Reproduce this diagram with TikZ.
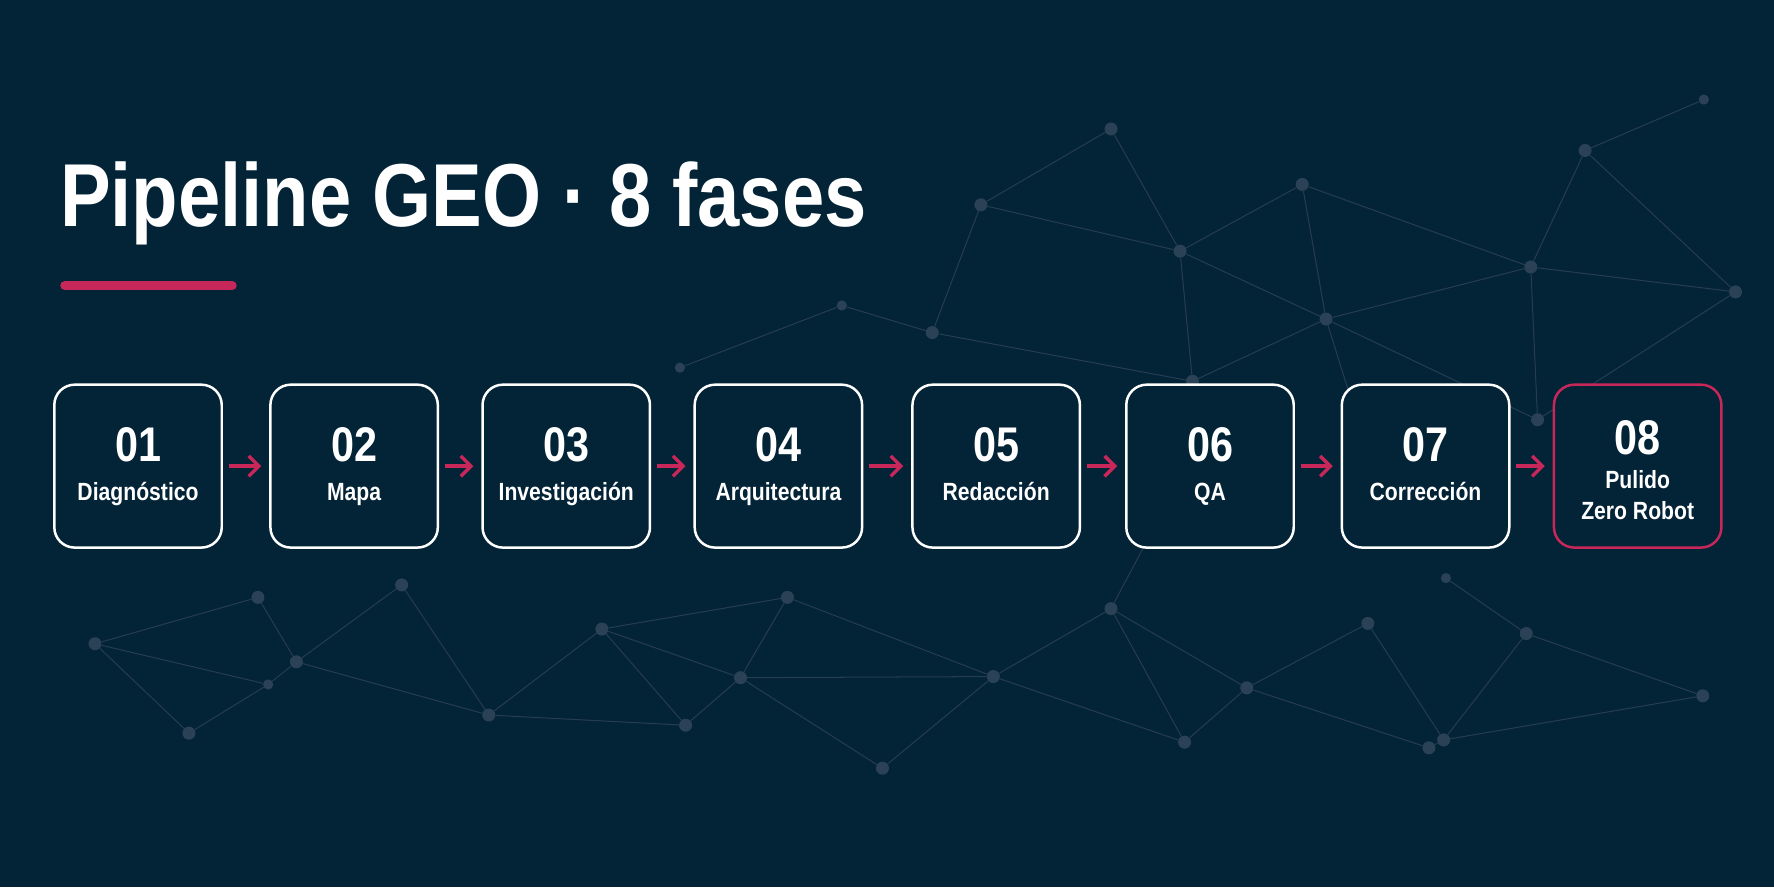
\documentclass[tikz,border=0pt]{standalone}
\usepackage{fontspec}
\setmainfont{Liberation Sans}[FakeStretch=0.85]
\usetikzlibrary{arrows.meta}
\definecolor{bg}{HTML}{032337}
\definecolor{accent}{HTML}{C8275A}
\definecolor{netline}{HTML}{263C50}
\definecolor{netnode}{HTML}{2B4256}
\begin{document}
\begin{tikzpicture}[x=1pt,y=-1pt,
  dot/.style={circle,fill=netnode,inner sep=0pt,minimum size=11.5pt},
  sdot/.style={dot,minimum size=9pt},
  net/.style={draw=netline,line width=0.9pt},
  box/.style={draw=white,line width=2.2pt,rounded corners=18pt,fill=bg,minimum width=148pt,minimum height=144pt,inner sep=0pt},
  redbox/.style={box,draw=accent},
  num/.style={text=white,font=\fontsize{43}{43}\selectfont\bfseries,anchor=base,inner sep=0pt},
  lab/.style={text=white,font=\fontsize{22}{28}\selectfont\bfseries,anchor=base,inner sep=0pt},
  flow/.style={draw=accent,line width=3pt,-{Straight Barb[length=9pt,width=18pt]},shorten <=5pt,shorten >=7pt}
]
\fill[bg] (0,0) rectangle (1568,784);
\useasboundingbox (0,0) rectangle (1568,784);

% ---------- top network ----------
\node[dot] (A) at (982,114) {};
\node[dot] (B) at (867,181) {};
\node[dot] (C) at (1043,222) {};
\node[dot] (D) at (1151,163) {};
\node[dot] (E) at (1172,282) {};
\node[dot] (F) at (1353,236) {};
\node[dot] (G) at (1401,133) {};
\node[sdot] (H) at (1506,88) {};
\node[dot] (I) at (1534,258) {};
\node[dot] (J) at (824,294) {};
\node[sdot] (K) at (744,270) {};
\node[sdot] (L) at (601,325) {};
\node[dot] (M) at (1054,337) {};
\node[dot] (N) at (1359,371) {};
\coordinate (hx1) at (1198,365);
\foreach \a/\b in {A/B,A/C,B/C,B/J,J/K,K/L,J/M,C/D,C/E,C/M,M/E,D/E,D/F,E/F,E/N,E/hx1,F/G,F/I,F/N,G/H,G/I,I/N}
  \draw[net] (\a) -- (\b);

% ---------- bottom network ----------
\node[dot] (P1) at (84,569) {};
\node[dot] (P2) at (228,528) {};
\node[dot] (P3) at (262,585) {};
\node[sdot] (P4) at (237,605) {};
\node[dot] (P5) at (167,648) {};
\node[dot] (P6) at (355,517) {};
\node[dot] (P7) at (432,632) {};
\node[dot] (P8) at (532,556) {};
\node[dot] (P9) at (606,641) {};
\node[dot] (P10) at (654.5,599) {};
\node[dot] (P11) at (696,528) {};
\node[dot] (P12) at (780,679) {};
\node[dot] (Q1) at (878,598) {};
\node[dot] (Q2) at (982,538) {};
\node[dot] (Q3) at (1047,656) {};
\node[dot] (Q4) at (1102,608) {};
\node[dot] (Q5) at (1209,551) {};
\node[dot] (Q6) at (1263,661) {};
\node[dot] (Q7) at (1276,654) {};
\node[sdot] (Q8) at (1278,511) {};
\node[dot] (Q9) at (1349,560) {};
\node[dot] (Q10) at (1505,615) {};
\coordinate (hx2) at (1018,470);
\foreach \a/\b in {P1/P2,P1/P4,P1/P5,P2/P3,P5/P4,P4/P3,P3/P6,P3/P7,P6/P7,P7/P8,P7/P9,P8/P9,P8/P10,P8/P11,P9/P10,P10/P11,P10/Q1,P11/Q1,P10/P12,P12/Q1,Q1/Q2,Q1/Q3,Q2/Q3,Q2/Q4,Q2/hx2,Q3/Q4,Q4/Q5,Q4/Q6,Q5/Q7,Q6/Q7,Q7/Q9,Q8/Q9,Q9/Q10,Q7/Q10}
  \draw[net] (\a) -- (\b);

% ---------- title ----------
\node[text=white,font=\fontsize{79}{79}\selectfont\bfseries,anchor=base west,inner sep=0pt] (title) at (53,200) {Pipeline GEO · 8 fases};
\draw[accent,line width=8.5pt,line cap=round] (57.5,252.5) -- (205,252.5);

% ---------- boxes ----------
\node[box] (b1) at (122,412) {};
\node[box] (b2) at (313,412) {};
\node[box] (b3) at (500.5,412) {};
\node[box] (b4) at (688,412) {};
\node[box] (b5) at (880.5,412) {};
\node[box] (b6) at (1069.5,412) {};
\node[box] (b7) at (1260,412) {};
\node[redbox] (b8) at (1447.5,412) {};

\foreach \i/\j in {1/2,2/3,3/4,4/5,5/6,6/7,7/8}
  \draw[flow] (b\i.east) -- (b\j.west);

\node[num] (n1) at (122,408) {01};
\node[num] (n2) at (313,408) {02};
\node[num] (n3) at (500.5,408) {03};
\node[num] (n4) at (688,408) {04};
\node[num] (n5) at (880.5,408) {05};
\node[num] (n6) at (1069.5,408) {06};
\node[num] (n7) at (1260,408) {07};
\node[num] (n8) at (1447.5,401.5) {08};

\node[lab] (l1) at (122,442) {Diagnóstico};
\node[lab] (l2) at (313,442) {Mapa};
\node[lab] (l3) at (500.5,442) {Investigación};
\node[lab] (l4) at (688,442) {Arquitectura};
\node[lab] (l5) at (880.5,442) {Redacción};
\node[lab] (l6) at (1069.5,442) {QA};
\node[lab] (l7) at (1260,442) {Corrección};
\node[lab] (l8a) at (1447.5,431.5) {Pulido};
\node[lab] (l8b) at (1447.5,459.5) {Zero Robot};
\end{tikzpicture}
\end{document}
